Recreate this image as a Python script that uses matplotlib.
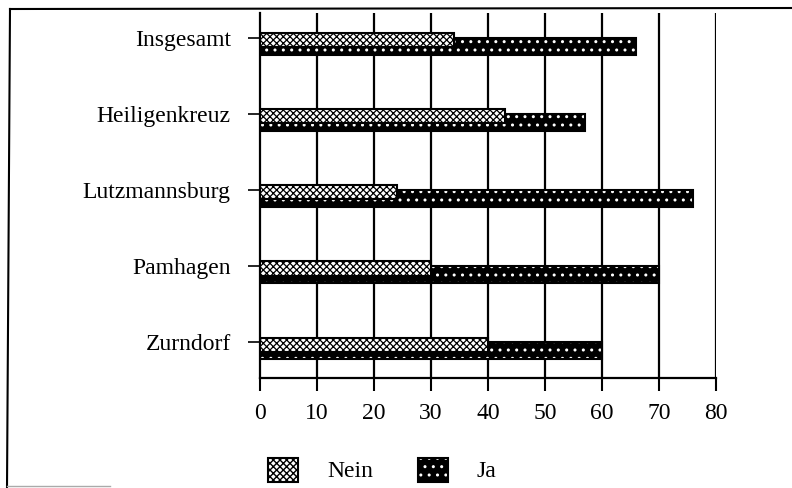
import matplotlib
matplotlib.use("Agg")
import matplotlib.pyplot as plt
import numpy as np
from matplotlib.patches import Patch
from matplotlib.legend_handler import HandlerTuple
from matplotlib.lines import Line2D

categories = ["Insgesamt", "Heiligenkreuz", "Lutzmannsburg", "Pamhagen", "Zurndorf"]
nein = [34, 43, 24, 30, 40]
ja = [66, 57, 76, 70, 60]
xticks = [0, 10, 20, 30, 40, 50, 60, 70, 80]
series_labels = ["Nein", "Ja"]

plt.rcParams['font.family'] = ['Liberation Serif', 'DejaVu Serif']
FS = 17

W, H = 792, 488
fig = plt.figure(figsize=(W / 100, H / 100), dpi=100)
ax = fig.add_axes([260 / W, 1 - 378 / H, (716 - 260) / W, (378 - 13) / H])

y = np.arange(len(categories))

NEIN_HATCH = 'xxxxx'
JA_HATCH = '..'

# Ja bars: black with white dots
with plt.rc_context({'hatch.linewidth': 1.0}):
    ax.barh(y + 0.11, ja, height=0.22, color='black', edgecolor='white',
            hatch=JA_HATCH, linewidth=0, zorder=3)
ax.barh(y + 0.11, ja, height=0.22, fill=False, edgecolor='black',
        linewidth=1.5, zorder=3)
# Nein bars: white with dense black pattern
with plt.rc_context({'hatch.linewidth': 0.9}):
    ax.barh(y + 0.03, nein, height=0.185, color='white', edgecolor='black',
            hatch=NEIN_HATCH, linewidth=1.5, zorder=4)

ax.set_xlim(0, 80)
ax.set_ylim(4.47, -0.33)
ax.set_xticks(xticks)
ax.set_xticklabels([str(t) for t in xticks], fontsize=FS)
ax.set_yticks(y)
ax.set_yticklabels(categories, fontsize=FS)

for xv in xticks[1:]:
    ax.axvline(xv, color='black', linewidth=1.6, zorder=1)

for s in ['top', 'right']:
    ax.spines[s].set_visible(False)
ax.spines['left'].set_linewidth(1.6)
ax.spines['bottom'].set_linewidth(1.6)
ax.tick_params(axis='x', direction='out', length=9, width=1.5, pad=9)
ax.tick_params(axis='y', direction='out', length=9, width=1.2, pad=12)

# legend
fs_px = FS * 100 / 72
with plt.rc_context({'hatch.linewidth': 0.9}):
    h_nein = Patch(facecolor='white', edgecolor='black', hatch=NEIN_HATCH, linewidth=1.5)
h_ja_fill = Patch(facecolor='black', edgecolor='white', hatch=JA_HATCH, linewidth=0)
h_ja_edge = Patch(fill=False, edgecolor='black', linewidth=1.5)
leg = fig.legend(handles=[h_nein, (h_ja_fill, h_ja_edge)], labels=series_labels,
                 handler_map={tuple: HandlerTuple(ndivide=1)},
                 loc='center left', bbox_to_anchor=(268 / W, 18 / H),
                 ncol=2, frameon=False, fontsize=FS, borderpad=0, borderaxespad=0,
                 handlelength=30 / fs_px, handleheight=28 / fs_px,
                 handletextpad=29 / fs_px, columnspacing=45 / fs_px)

# page frame (scan border)
fig.add_artist(Line2D([10 / W, 1.0], [1 - 9 / H, 1 - 8 / H], transform=fig.transFigure,
                      color='black', linewidth=1.5))
fig.add_artist(Line2D([10 / W, 7 / W], [1 - 9 / H, 0.0], transform=fig.transFigure,
                      color='black', linewidth=1.5))
fig.add_artist(Line2D([7 / W, 110 / W], [2 / H, 2 / H], transform=fig.transFigure,
                      color='#aaaaaa', linewidth=1.0))

fig.savefig("out.png", dpi=100)
